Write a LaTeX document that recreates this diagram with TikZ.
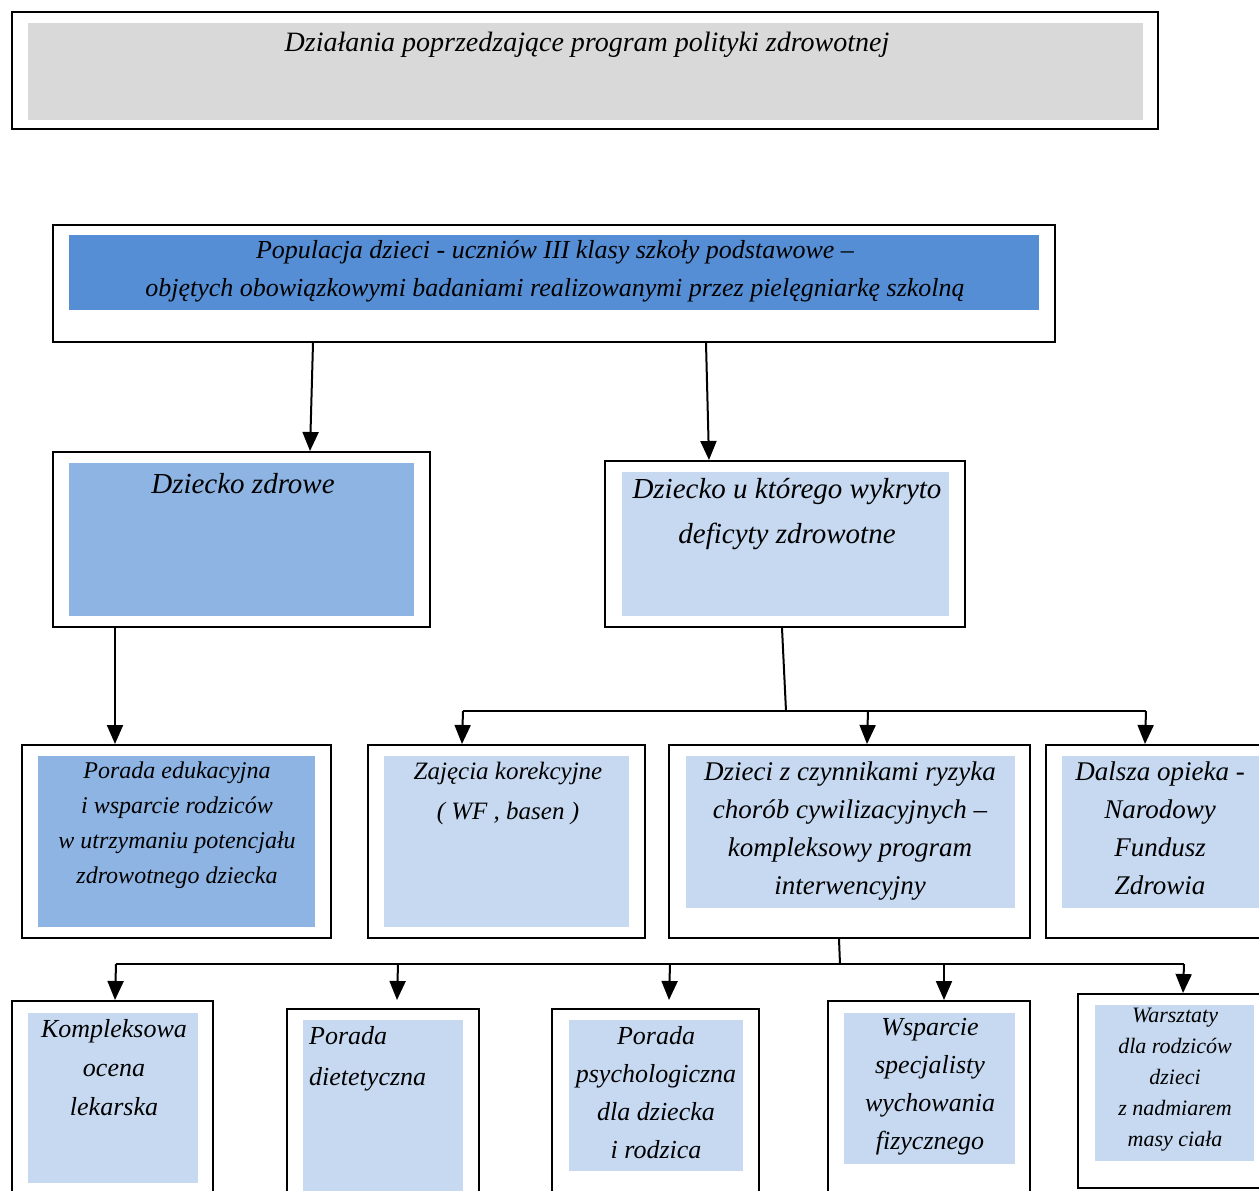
\documentclass[tikz,border=0pt]{standalone}
\usepackage{fontspec}
\setmainfont{Liberation Serif}
\usetikzlibrary{arrows.meta,fit,calc}
\definecolor{grayfill}{HTML}{D9D9D9}
\definecolor{bdark}{HTML}{558ED5}
\definecolor{bmid}{HTML}{8EB4E3}
\definecolor{blight}{HTML}{C6D9F1}
\newcommand\fsz[2]{\fontsize{#1}{#2}\selectfont}
\begin{document}
\begin{tikzpicture}[x=1pt,y=-1pt,
  frame/.style={draw=black,line width=2pt,fill=white,rectangle,inner sep=0pt},
  inbox/.style={draw=none,rectangle,inner sep=0pt},
  txt/.style={align=center,anchor=north,inner sep=0pt,text=black},
  conn/.style={line width=2pt},
  arr/.style={line width=2pt,-{Triangle[width=16pt,length=19pt]}}]
\useasboundingbox (0,0) rectangle (1259,1191);
\fill[white] (0,0) rectangle (1259,1191);

% frames
\node[frame,fit={(12,12)(1158,129)}] (topf) {};
\node[frame,fit={(53,225)(1055,342)}] (pop) {};
\node[frame,fit={(53,452)(430,627)}] (zdr) {};
\node[frame,fit={(605,461)(965,627)}] (wyk) {};
\node[frame,fit={(22,745)(331,938)}] (edu) {};
\node[frame,fit={(368,745)(645,938)}] (zaj) {};
\node[frame,fit={(669,745)(1030,938)}] (czyn) {};
\node[frame,fit={(1046,745)(1272,938)}] (dal) {};
\node[frame,fit={(12,1001)(213,1205)}] (komp) {};
\node[frame,fit={(287,1009)(479,1205)}] (diet) {};
\node[frame,fit={(552,1009)(759,1205)}] (psy) {};
\node[frame,fit={(828,1001)(1030,1205)}] (wsp) {};
\node[frame,fit={(1078,994)(1266,1188)}] (war) {};

% inner fills
\node[inbox,fill=grayfill,fit={(28,23)(1143,120)}] (topi) {};
\node[inbox,fill=bdark,fit={(69,235)(1039,310)}] (popi) {};
\node[inbox,fill=bmid,fit={(69,463)(414,616)}] (zdri) {};
\node[inbox,fill=blight,fit={(622,472)(949,616)}] (wyki) {};
\node[inbox,fill=bmid,fit={(38,756)(315,927)}] (edui) {};
\node[inbox,fill=blight,fit={(384,756)(629,927)}] (zaji) {};
\node[inbox,fill=blight,fit={(686,756)(1015,908)}] (czyni) {};
\node[inbox,fill=blight,fit={(1062,756)(1262,908)}] (dali) {};
\node[inbox,fill=blight,fit={(28,1013)(198,1183)}] (kompi) {};
\node[inbox,fill=blight,fit={(303,1020)(463,1205)}] (dieti) {};
\node[inbox,fill=blight,fit={(569,1020)(743,1171)}] (psyi) {};
\node[inbox,fill=blight,fit={(844,1013)(1015,1164)}] (wspi) {};
\node[inbox,fill=blight,fit={(1095,1005)(1254,1161)}] (wari) {};

% texts
\node[txt,font=\itshape\fsz{28}{34}] (topt) at (587,32) {Działania poprzedzające program polityki zdrowotnej};
\node[txt,font=\itshape\fsz{26}{38}] (popt) at (555,240) {Populacja dzieci - uczniów III klasy szkoły podstawowe –\\objętych obowiązkowymi badaniami realizowanymi przez pielęgniarkę szkolną};
\node[txt,font=\itshape\fsz{29}{45}] (zdrt) at (243,473) {Dziecko zdrowe};
\node[txt,font=\itshape\fsz{29}{45}] (wykt) at (787,478) {Dziecko u którego wykryto\\deficyty zdrowotne};
\node[txt,font=\itshape\fsz{24}{35}] (edut) at (177,762) {Porada edukacyjna\\i wsparcie rodziców\\w utrzymaniu potencjału\\zdrowotnego dziecka};
\node[txt,font=\itshape\fsz{25}{40}] (zajt) at (508,762) {Zajęcia korekcyjne\\( WF , basen )};
\node[txt,font=\itshape\fsz{27}{38}] (czynt) at (850,762) {Dzieci z czynnikami ryzyka\\chorób cywilizacyjnych –\\kompleksowy program\\interwencyjny};
\node[txt,font=\itshape\fsz{27}{38}] (dalt) at (1160,762) {Dalsza opieka -\\Narodowy\\Fundusz\\Zdrowia};
\node[txt,font=\itshape\fsz{26}{39}] (kompt) at (114,1019) {Kompleksowa\\ocena\\lekarska};
\node[txt,align=left,anchor=north west,font=\itshape\fsz{26}{41}] (dietT) at (309,1026) {Porada\\dietetyczna};
\node[txt,font=\itshape\fsz{26}{38}] (psyt) at (656,1026) {Porada\\psychologiczna\\dla dziecka\\i rodzica};
\node[txt,font=\itshape\fsz{26}{38}] (wspt) at (930,1018) {Wsparcie\\specjalisty\\wychowania\\fizycznego};
\node[txt,font=\itshape\fsz{22}{31}] (wart) at (1175,1008) {Warsztaty\\dla rodziców\\dzieci\\z nadmiarem\\masy ciała};

% connectors level 1
\draw[arr] ([xshift=261pt]pop.south west) -- ([xshift=258pt]zdr.north west);
\draw[arr] ([xshift=654pt]pop.south west) -- ([xshift=105pt]wyk.north west);
\draw[arr] ([xshift=63pt]zdr.south west) -- ([xshift=94pt]edu.north west);

% bus 1
\coordinate (b1) at (786,711);
\coordinate (b1l) at (463,711);
\coordinate (b1m) at (868,711);
\coordinate (b1r) at (1146,711);
\draw[conn] ([xshift=178pt]wyk.south west) -- (b1);
\draw[conn] (b1l) -- (b1r);
\draw[arr] (b1l) -- ([xshift=95pt]zaj.north west);
\draw[arr] (b1m) -- ([xshift=199pt]czyn.north west);
\draw[arr] (b1r) -- ([xshift=100pt]dal.north west);

% bus 2
\coordinate (b2) at (840,964);
\coordinate (b2a) at (116,964);
\coordinate (b2b) at (398,964);
\coordinate (b2c) at (670,964);
\coordinate (b2d) at (944,964);
\coordinate (b2e) at (1184,964);
\draw[conn] ([xshift=171pt]czyn.south west) -- (b2);
\draw[conn] (b2a) -- (b2e);
\draw[arr] (b2a) -- ([xshift=104pt]komp.north west);
\draw[arr] (b2b) -- ([xshift=111pt,yshift=8pt]diet.north west);
\draw[arr] (b2c) -- ([xshift=118pt,yshift=8pt]psy.north west);
\draw[arr] (b2d) -- ([xshift=117pt]wsp.north west);
\draw[arr] (b2e) -- ([xshift=106pt]war.north west);
\end{tikzpicture}
\end{document}
